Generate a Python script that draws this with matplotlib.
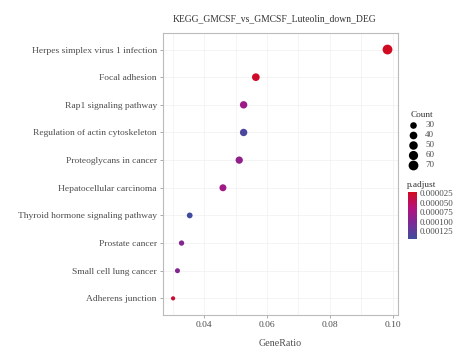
import matplotlib
matplotlib.use("Agg")
import matplotlib.pyplot as plt
import numpy as np
from matplotlib.colors import LinearSegmentedColormap, Normalize

# Pathways, top to bottom as drawn
pathways = [
    "Herpes simplex virus 1 infection",
    "Focal adhesion",
    "Rap1 signaling pathway",
    "Regulation of actin cytoskeleton",
    "Proteoglycans in cancer",
    "Hepatocellular carcinoma",
    "Thyroid hormone signaling pathway",
    "Prostate cancer",
    "Small cell lung cancer",
    "Adherens junction",
]
gene_ratio = [0.0984, 0.0564, 0.0525, 0.0525, 0.0511, 0.0459, 0.0353, 0.0327, 0.0314, 0.0300]
counts = [70, 40, 37, 37, 36, 33, 25, 23, 22, 21]
p_adjust = [0.000022, 0.000026, 0.000080, 0.000138, 0.000088, 0.000078, 0.000145, 0.000098, 0.000100, 0.000030]

count_breaks = [30, 40, 50, 60, 70]
p_ticks = [0.000025, 0.000050, 0.000075, 0.000100, 0.000125]
x_ticks = [0.04, 0.06, 0.08, 0.10]

FONT = "Liberation Serif"
TEXT_COL = "#4d4d4d"
cmap = LinearSegmentedColormap.from_list(
    "padj", ["#d10a1e", "#b5117a", "#7a2a96", "#3f4e9e"])
norm = Normalize(vmin=0.000021, vmax=0.000146)

c_min, c_max = min(counts), max(counts)


def dot_size(c):
    """ggplot-like area scale, returned as scatter size in pt^2."""
    diam_px = 4.2 + 5.6 * np.sqrt((c - c_min) / (c_max - c_min))
    diam_pt = diam_px * 0.72
    return diam_pt ** 2


fig = plt.figure(figsize=(4.74, 3.62), dpi=100)
ax = fig.add_axes([0.344, 0.130, 0.496, 0.779])

ypos = np.arange(len(pathways))[::-1]
ax.scatter(gene_ratio, ypos, s=[dot_size(c) for c in counts],
           c=p_adjust, cmap=cmap, norm=norm, linewidths=0, zorder=3)

ax.set_xlim(0.0268, 0.1018)
ax.set_ylim(-0.6, len(pathways) - 0.4)
ax.set_yticks(ypos)
ax.set_yticklabels(pathways, fontfamily=FONT, fontsize=6.8, color=TEXT_COL)
ax.set_xticks(x_ticks)
ax.set_xticklabels([f"{t:.2f}" for t in x_ticks], fontfamily=FONT,
                   fontsize=6.8, color=TEXT_COL)
ax.set_xticks([0.03, 0.05, 0.07, 0.09], minor=True)
ax.tick_params(axis="both", which="major", length=2.5, width=0.5,
               color="#888888", pad=2)
ax.tick_params(axis="x", which="minor", length=0)
ax.grid(True, which="both", color="#f0f0f0", linewidth=0.5, zorder=0)
for spine in ax.spines.values():
    spine.set_color("#bbbbbb")
    spine.set_linewidth(0.8)

ax.set_xlabel("GeneRatio", fontfamily=FONT, fontsize=7.2, color=TEXT_COL,
              labelpad=7)
fig.text(0.58, 0.942, "KEGG_GMCSF_vs_GMCSF_Luteolin_down_DEG",
         fontfamily=FONT, fontsize=6.9, color="#333333", ha="center")

# Count legend
handles = [ax.scatter([], [], s=dot_size(c), color="black", linewidths=0)
           for c in count_breaks]
leg = fig.legend(handles, [str(c) for c in count_breaks], title="Count",
                 loc="upper left", bbox_to_anchor=(0.855, 0.704),
                 frameon=False, handletextpad=0.8, labelspacing=0.2,
                 borderaxespad=0, handlelength=1.0,
                 prop={"family": FONT, "size": 6.5},
                 title_fontproperties={"family": FONT, "size": 6.7})
for txt in leg.get_texts():
    txt.set_color(TEXT_COL)
leg.get_title().set_color("#333333")

# p.adjust colourbar
fig.text(0.858, 0.484, "p.adjust", fontfamily=FONT, fontsize=6.7,
         color="#333333")
cax = fig.add_axes([0.861, 0.340, 0.019, 0.130])
sm = plt.cm.ScalarMappable(norm=norm, cmap=cmap)
cb = fig.colorbar(sm, cax=cax, ticks=p_ticks)
cb.outline.set_visible(False)
cax.invert_yaxis()
cax.set_yticklabels([f"{t:.6f}" for t in p_ticks], fontfamily=FONT,
                    fontsize=6.5, color=TEXT_COL)
cax.tick_params(length=0, pad=2)

fig.savefig("out.png", dpi=100)
